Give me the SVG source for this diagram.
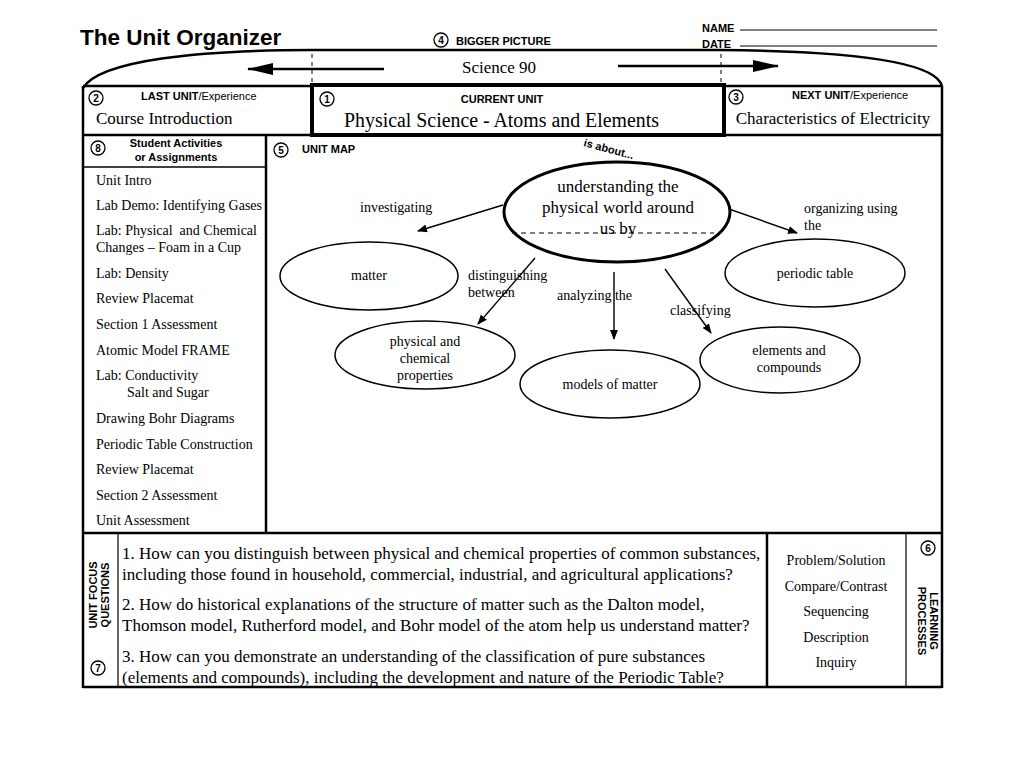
<svg xmlns="http://www.w3.org/2000/svg" width="1024" height="768" viewBox="0 0 1024 768">
<style>
.frame{fill:none;stroke:#000;stroke-width:2.5}
.ell{fill:#fff;stroke:#000;stroke-width:1.5}
.num{fill:#fff;stroke:#000;stroke-width:1.3}
.numt{font-family:"Liberation Sans",Arial,sans-serif;font-size:10px;font-weight:bold;text-anchor:middle}
.hb{font-family:"Liberation Sans",Arial,sans-serif;font-size:11px;font-weight:bold}
.hn{font-family:"Liberation Sans",Arial,sans-serif;font-size:11px}
.ser{font-family:"Liberation Serif","Times New Roman",serif;font-size:14px}
.ser17{font-family:"Liberation Serif","Times New Roman",serif;font-size:17px}
.mid{text-anchor:middle}
.conn{stroke:#000;stroke-width:1.4;fill:none}
</style>
<defs>
<marker id="ah" markerWidth="10" markerHeight="8" refX="9" refY="4" orient="auto" markerUnits="userSpaceOnUse">
<path d="M0,0 L10,4 L0,8 z" fill="#000"/>
</marker>
<marker id="bh" markerWidth="26" markerHeight="12" refX="25" refY="6" orient="auto" markerUnits="userSpaceOnUse">
<path d="M0,0 L26,6 L0,12 z" fill="#000"/>
</marker>
</defs>
<rect width="1024" height="768" fill="#fff"/>

<g id="header">
<text x="80" y="45" font-family="Liberation Sans,Arial,sans-serif" font-size="22.5" font-weight="bold">The Unit Organizer</text>
<text x="702" y="32" class="hb" font-size="10">NAME</text>
<line x1="740" y1="30" x2="937" y2="30" stroke="#000" stroke-width="1"/>
<text x="702" y="48" class="hb" font-size="10">DATE</text>
<line x1="740" y1="46" x2="937" y2="46" stroke="#000" stroke-width="1"/>
</g>

<g id="bigger-picture">
<path class="frame" d="M83,88 C100,60 200,50 312,50 L720,50 C840,51 935,60 942,86"/>
<circle class="num" cx="441" cy="40" r="7"/><text class="numt" x="441" y="44">4</text>
<text class="hb" x="456" y="45">BIGGER PICTURE</text>
<text class="ser17 mid" x="499" y="73">Science 90</text>
<line x1="312" y1="54" x2="312" y2="86" stroke="#000" stroke-width="1" stroke-dasharray="4,4"/>
<line x1="721" y1="54" x2="721" y2="86" stroke="#000" stroke-width="1" stroke-dasharray="4,4"/>
</g>

<g id="frame">
<line class="frame" x1="83" y1="86" x2="942" y2="86"/>
<line class="frame" x1="83" y1="86" x2="83" y2="688"/>
<line class="frame" x1="942" y1="86" x2="942" y2="688"/>
<line class="frame" x1="83" y1="135" x2="942" y2="135"/>
<line class="frame" x1="83" y1="533" x2="942" y2="533"/>
<line class="frame" x1="83" y1="687" x2="942" y2="687"/>
<line class="frame" x1="266" y1="135" x2="266" y2="533"/>
</g>

<g id="last-unit">
<circle class="num" cx="96" cy="98" r="7"/><text class="numt" x="96" y="102">2</text>
<text x="141" y="100" class="hn"><tspan font-weight="bold">LAST UNIT</tspan>/Experience</text>
<text class="ser17" x="96" y="124">Course Introduction</text>
</g>

<g id="current-unit">
<rect x="312" y="85" width="412" height="50" fill="#fff" stroke="#000" stroke-width="4"/>
<circle class="num" cx="327" cy="99" r="7"/><text class="numt" x="327" y="103">1</text>
<text class="hb mid" x="502" y="103" font-size="13.5">CURRENT UNIT</text>
<text x="344" y="127" font-family="Liberation Serif,Times New Roman,serif" font-size="20" textLength="315" lengthAdjust="spacingAndGlyphs">Physical Science - Atoms and Elements</text>
</g>

<g id="next-unit">
<circle class="num" cx="736" cy="97" r="7"/><text class="numt" x="736" y="101">3</text>
<text x="792" y="99" class="hn"><tspan font-weight="bold">NEXT UNIT</tspan>/Experience</text>
<text class="ser17 mid" x="833" y="124">Characteristics of Electricity</text>
</g>

<g id="connectors">
<line x1="384" y1="69" x2="248" y2="69" stroke="#000" stroke-width="2.5" marker-end="url(#bh)"/>
<line x1="618" y1="66" x2="778" y2="66" stroke="#000" stroke-width="2.5" marker-end="url(#bh)"/>
<line class="conn" x1="503" y1="205" x2="418" y2="231" marker-end="url(#ah)"/>
<line class="conn" x1="729" y1="209" x2="797" y2="233" marker-end="url(#ah)"/>
<line class="conn" x1="535" y1="258" x2="478" y2="324" marker-end="url(#ah)"/>
<line class="conn" x1="614" y1="272" x2="614" y2="339" marker-end="url(#ah)"/>
<line class="conn" x1="665" y1="269" x2="711" y2="333" marker-end="url(#ah)"/>
</g>

<g id="activities">
<circle class="num" cx="98" cy="148" r="7"/><text class="numt" x="98" y="152">8</text>
<text class="hb mid" x="176" y="147">Student Activities</text>
<text class="hb mid" x="176" y="161">or Assignments</text>
<line x1="83" y1="167" x2="266" y2="167" stroke="#000" stroke-width="1.5"/>
<text class="ser" x="96" y="185">Unit Intro</text>
<text class="ser" x="96" y="210">Lab Demo: Identifying Gases</text>
<text class="ser" x="96" y="235">Lab: Physical &#160;and Chemical</text>
<text class="ser" x="96" y="252">Changes – Foam in a Cup</text>
<text class="ser" x="96" y="278">Lab: Density</text>
<text class="ser" x="96" y="303">Review Placemat</text>
<text class="ser" x="96" y="329">Section 1 Assessment</text>
<text class="ser" x="96" y="355">Atomic Model FRAME</text>
<text class="ser" x="96" y="380">Lab: Conductivity</text>
<text class="ser" x="127" y="397">Salt and Sugar</text>
<text class="ser" x="96" y="423">Drawing Bohr Diagrams</text>
<text class="ser" x="96" y="449">Periodic Table Construction</text>
<text class="ser" x="96" y="474">Review Placemat</text>
<text class="ser" x="96" y="500">Section 2 Assessment</text>
<text class="ser" x="96" y="525">Unit Assessment</text>
</g>

<g id="unit-map">
<circle class="num" cx="281" cy="150" r="7"/><text class="numt" x="281" y="154">5</text>
<text class="hb" x="302" y="153">UNIT MAP</text>
<text class="hb" x="0" y="0" font-size="11" transform="translate(583,146) rotate(15)">is about...</text>
<text class="ser" x="360" y="212">investigating</text>
<text class="ser" x="804" y="213">organizing using</text>
<text class="ser" x="804" y="230">the</text>
<text class="ser" x="468" y="280">distinguishing</text>
<text class="ser" x="468" y="297">between</text>
<text class="ser" x="557" y="300">analyzing the</text>
<text class="ser" x="670" y="315">classifying</text>
</g>

<g id="node-main">
<ellipse cx="617" cy="212" rx="113" ry="50" fill="#fff" stroke="#000" stroke-width="3"/>
<text class="ser17 mid" x="618" y="192">understanding the</text>
<text class="ser17 mid" x="618" y="213">physical world around</text>
<text class="ser17 mid" x="618" y="234">us by</text>
<line x1="512" y1="233" x2="714" y2="233" stroke="#000" stroke-width="1" stroke-dasharray="5,4"/>
</g>
<g id="node-matter">
<ellipse class="ell" cx="369" cy="276" rx="89" ry="34"/>
<text class="ser mid" x="369" y="280">matter</text>
</g>
<g id="node-periodic">
<ellipse class="ell" cx="815" cy="273" rx="90" ry="34"/>
<text class="ser mid" x="815" y="278">periodic table</text>
</g>
<g id="node-properties">
<ellipse class="ell" cx="425" cy="355" rx="90" ry="34"/>
<text class="ser mid" x="425" y="346">physical and</text>
<text class="ser mid" x="425" y="363">chemical</text>
<text class="ser mid" x="425" y="380">properties</text>
</g>
<g id="node-models">
<ellipse class="ell" cx="610" cy="384" rx="90" ry="34"/>
<text class="ser mid" x="610" y="389">models of matter</text>
</g>
<g id="node-elements">
<ellipse class="ell" cx="780" cy="360" rx="80" ry="33"/>
<text class="ser mid" x="789" y="355">elements and</text>
<text class="ser mid" x="789" y="372">compounds</text>
</g>

<g id="focus-questions">
<line x1="118" y1="533" x2="118" y2="687" stroke="#000" stroke-width="1.2"/>
<text class="hb mid" font-size="11" transform="translate(97,595) rotate(-90)">UNIT FOCUS</text>
<text class="hb mid" font-size="11" transform="translate(109,595) rotate(-90)">QUESTIONS</text>
<circle class="num" cx="98" cy="668" r="7"/><text class="numt" x="98" y="672">7</text>
<text class="ser17" x="122" y="559">1. How can you distinguish between physical and chemical properties of common substances,</text>
<text class="ser17" x="122" y="580">including those found in household, commercial, industrial, and agricultural applications?</text>
<text class="ser17" x="122" y="610">2. How do historical explanations of the structure of matter such as the Dalton model,</text>
<text class="ser17" x="122" y="631">Thomson model, Rutherford model, and Bohr model of the atom help us understand matter?</text>
<text class="ser17" x="122" y="662">3. How can you demonstrate an understanding of the classification of pure substances</text>
<text class="ser17" x="122" y="683">(elements and compounds), including the development and nature of the Periodic Table?</text>
</g>

<g id="learning-processes">
<line x1="767" y1="533" x2="767" y2="687" stroke="#000" stroke-width="2.5"/>
<line x1="906" y1="533" x2="906" y2="687" stroke="#000" stroke-width="1.2"/>
<text class="ser mid" x="836" y="565">Problem/Solution</text>
<text class="ser mid" x="836" y="591">Compare/Contrast</text>
<text class="ser mid" x="836" y="616">Sequencing</text>
<text class="ser mid" x="836" y="642">Description</text>
<text class="ser mid" x="836" y="667">Inquiry</text>
<circle class="num" cx="928" cy="548" r="7"/><text class="numt" x="928" y="552">6</text>
<text class="hb mid" font-size="11" transform="translate(930,621) rotate(90)">LEARNING</text>
<text class="hb mid" font-size="11" transform="translate(918,621) rotate(90)">PROCESSES</text>
</g>
</svg>
